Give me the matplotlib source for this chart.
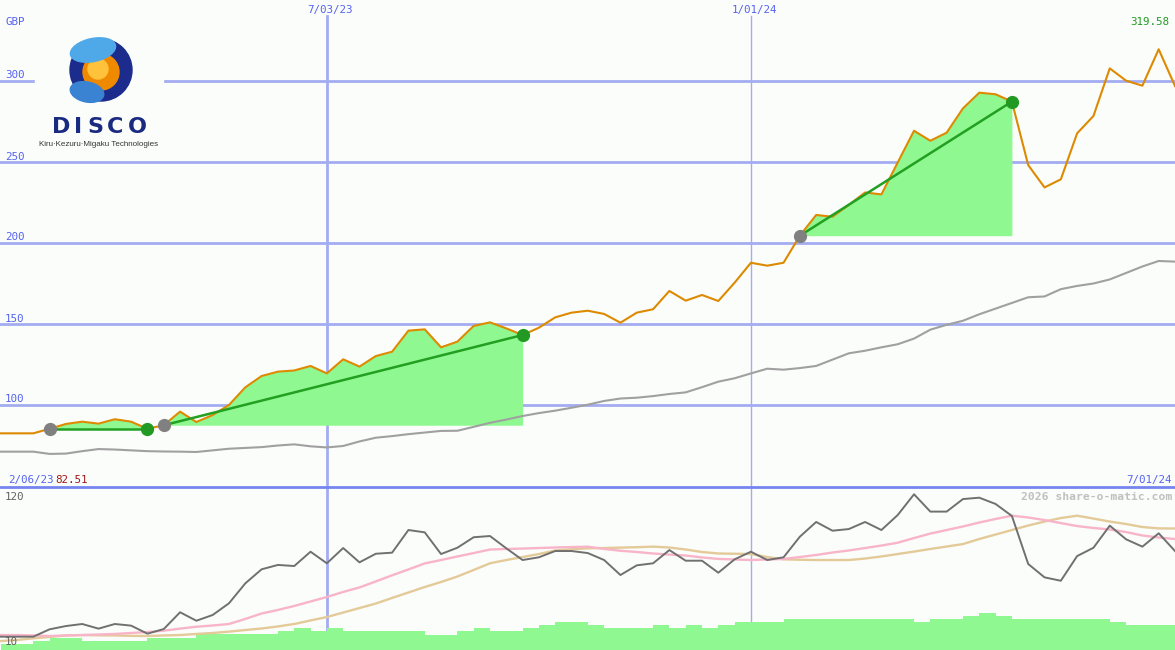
import matplotlib
matplotlib.use('Agg')
import matplotlib.pyplot as plt
from matplotlib.patches import Circle, Ellipse, Rectangle

# weekly closes (GBP), 73 weeks
price = [82.51, 82.51, 82.51, 85.3, 88.3, 89.7, 88.5, 91.2, 89.7, 85.3,
         87.5, 95.9, 89.5, 93.8, 100.0, 110.9, 117.9, 120.6, 121.3, 124.1,
         119.5, 128.2, 123.7, 130.2, 132.9, 145.9, 146.7, 135.6, 139.1, 148.8,
         151.0, 147.3, 143.2, 147.7, 154.1, 157.0, 158.2, 156.2, 150.8, 157.0,
         159.1, 170.4, 164.4, 167.9, 164.2, 175.5, 187.8, 186.0, 187.8, 204.5,
         217.3, 216.2, 223.5, 231.2, 230.0, 249.7, 269.3, 263.1, 268.1, 283.1,
         292.8, 291.8, 287.3, 248.1, 234.3, 239.3, 267.7, 278.4, 307.8, 300.2,
         297.1, 319.58, 296.9]

# moving average (grey)
ma = [71.2, 71.2, 71.2, 69.8, 70.0, 71.5, 72.8, 72.5, 72.0, 71.5,
      71.3, 71.2, 71.0, 72.0, 73.0, 73.5, 74.0, 75.0, 75.7, 74.5,
      73.8, 74.7, 77.5, 79.8, 80.8, 82.0, 83.0, 84.0, 84.1, 86.5,
      89.0, 91.0, 93.2, 95.0, 96.5, 98.3, 100.2, 102.5, 104.0, 104.5,
      105.5, 106.8, 107.8, 111.0, 114.4, 116.5, 119.5, 122.4, 121.8, 122.8,
      124.1, 128.0, 131.9, 133.5, 135.6, 137.5, 141.0, 146.5, 149.5, 152.0,
      156.0, 159.5, 163.0, 166.5, 167.0, 171.5, 173.5, 175.0, 177.5, 181.5,
      185.5, 188.9, 188.5]

# rising-trend signals: start week / end week
sig_start = [3, 10, 49]
sig_end = [9, 32, 62]

# lower panel
osc = [13.9, 13.9, 13.9, 19.3, 21.7, 23.2, 19.8, 23.2, 22.0, 16.1,
       19.5, 31.8, 25.6, 29.8, 38.4, 53.0, 63.3, 66.5, 65.7, 76.2,
       67.7, 78.9, 68.4, 74.7, 75.5, 92.1, 90.4, 74.5, 79.1, 86.8,
       87.7, 78.7, 70.1, 72.1, 76.7, 76.7, 75.2, 70.1, 59.1, 66.2,
       67.7, 77.4, 69.6, 69.6, 60.8, 70.6, 76.2, 70.1, 72.1, 87.2,
       98.0, 91.6, 92.8, 98.0, 92.1, 103.1, 118.3, 105.6, 105.6, 114.8,
       115.8, 111.2, 102.4, 67.2, 57.4, 54.9, 73.0, 79.1, 95.3, 85.3,
       79.9, 89.7, 76.7]
pink = [15.1, 15.1, 14.8, 14.4, 14.8, 15.1, 15.5, 15.9, 16.6, 17.3,
        18.3, 19.8, 21.2, 22.1, 23.2, 26.9, 30.9, 33.5, 36.4, 39.7,
        43.0, 46.7, 50.0, 54.4, 58.9, 63.2, 67.6, 70.1, 72.7, 75.2,
        77.8, 78.2, 78.5, 78.9, 79.3, 79.6, 79.9, 78.2, 76.9, 76.0,
        74.9, 74.1, 73.4, 72.0, 70.9, 70.5, 70.1, 70.5, 70.9, 72.3,
        73.8, 75.6, 77.1, 78.9, 80.7, 82.8, 86.2, 89.5, 92.1, 94.7,
        97.6, 100.2, 102.6, 101.3, 99.4, 97.2, 95.0, 93.6, 92.5, 90.6,
        88.1, 86.6, 85.5]
tan = [10.7, 11.5, 12.7, 13.7, 14.8, 15.1, 14.9, 14.8, 14.5, 14.4,
       14.8, 15.1, 15.9, 16.6, 17.6, 18.8, 19.9, 21.4, 23.2, 25.8,
       28.3, 31.6, 34.9, 38.2, 42.3, 46.3, 50.3, 54.0, 58.0, 62.8,
       67.7, 70.1, 72.3, 74.5, 77.1, 78.0, 78.7, 78.9, 79.2, 79.5,
       79.9, 79.3, 77.8, 76.0, 74.9, 74.7, 74.5, 72.3, 70.6, 70.3,
       70.1, 70.1, 70.1, 71.2, 72.7, 74.5, 76.3, 78.2, 80.0, 81.8,
       85.5, 88.8, 92.1, 95.4, 98.3, 100.9, 102.6, 100.5, 98.3, 96.5,
       94.3, 93.3, 93.2]
vol = [1.8, 1.8, 2.9, 4.0, 4.0, 2.9, 2.9, 2.9, 2.9, 4.0,
       4.0, 4.0, 5.1, 5.1, 5.1, 5.1, 5.1, 6.1, 7.2, 6.1,
       7.2, 6.1, 6.1, 6.1, 6.1, 6.1, 4.8, 4.8, 6.1, 7.2,
       6.1, 6.1, 7.2, 8.1, 9.0, 9.0, 8.1, 7.2, 7.2, 7.2,
       8.1, 7.2, 8.1, 7.2, 8.1, 9.0, 9.0, 9.0, 10.0, 10.0,
       10.0, 10.0, 10.0, 10.0, 10.0, 10.0, 9.0, 10.0, 10.0, 11.0,
       11.9, 11.0, 10.0, 10.0, 10.0, 10.0, 10.0, 10.0, 9.0, 8.1,
       8.1, 8.1]

vlines = [20, 46]
vline_labels = ['7/03/23', '1/01/24']
hgrid = [100, 150, 200, 250, 300]

BG = '#FBFDFB'
GRID = '#A3ACF0'
BLUE_TXT = '#5563F0'
MONO = 'DejaVu Sans Mono'

W, H = 1175, 650
fig = plt.figure(figsize=(W / 100, H / 100), dpi=100, facecolor=BG)
weeks = list(range(len(price)))
xl = (-0.04, len(price) - 1)

# ---- main price panel
ax = fig.add_axes([0, 163 / H, 1, 487 / H])
ax.set_facecolor('none')
ax.set_xlim(*xl)
ax.set_ylim(49.38, 350)
ax.axis('off')
for g in hgrid:
    ax.axhline(g, color=GRID, lw=2, zorder=1)
ax.axvline(vlines[0], ymax=1 - 16 / 487, color=GRID, lw=2, zorder=1)
ax.axvline(vlines[1], ymax=1 - 16 / 487, color=GRID, lw=1, zorder=1)

for s, e in zip(sig_start, sig_end):
    xs = weeks[s:e + 1]
    ax.fill_between(xs, price[s:e + 1], price[s], color='#90F890', lw=0, zorder=2)
ax.plot(weeks, ma, color='#A0A0A0', lw=1.5, zorder=3)
ax.plot(weeks, price, color='#DD8A00', lw=1.5, zorder=4)
for s, e in zip(sig_start, sig_end):
    ax.plot([s, e], [price[s], price[e]], color='#22A022', lw=1.8, zorder=5)
    ax.plot(s, price[s], 'o', color='#808080', ms=8.5, zorder=6)
    ax.plot(e, price[e], 'o', color='#229922', ms=8.5, zorder=6)

# ---- lower panel: volume + indicator lines
vax = fig.add_axes([0, 0, 1, 163 / H])
vax.set_facecolor('none')
vax.set_xlim(*xl)
vax.set_ylim(0, 163 / 3.1)
vax.axis('off')
vax.axvline(vlines[0], color=GRID, lw=2, zorder=0)
vax.axvline(vlines[1], color=GRID, lw=1, zorder=0)
vax.bar(weeks[:-1], vol, width=1, align='edge', color='#90F890', lw=0, zorder=2)

lax = fig.add_axes([0, 0, 1, 163 / H])
lax.set_facecolor('none')
lax.set_xlim(*xl)
lax.set_ylim(4.135, 123.64)
lax.axis('off')
lax.plot(weeks, tan, color='#E3CA98', lw=1.7)
lax.plot(weeks, pink, color='#F8B4C8', lw=1.7)
lax.plot(weeks, osc, color='#707070', lw=1.4)

# ---- overlay in pixel units: labels, separator, logo
ov = fig.add_axes([0, 0, 1, 1])
ov.set_facecolor('none')
ov.set_xlim(0, W)
ov.set_ylim(H, 0)
ov.axis('off')

ov.plot([0, W], [487, 487], color='#7585F0', lw=2)

ov.text(5, 25, 'GBP', color=BLUE_TXT, family=MONO, fontsize=7.8, va='baseline')
for g, yp in zip(hgrid, [405, 324, 243, 162, 81]):
    ov.text(5, yp - 2.5, str(g), color=BLUE_TXT, family=MONO, fontsize=7.8, va='baseline')
for lab, xp in zip(vline_labels, [330, 754]):
    ov.text(xp, 13, lab, color=BLUE_TXT, family=MONO, fontsize=7.8, ha='center', va='baseline')
ov.text(8, 483, '2/06/23', color=BLUE_TXT, family=MONO, fontsize=7.8, va='baseline')
ov.text(55, 483, '%.2f' % price[0], color='#A01818', family=MONO, fontsize=7.8, va='baseline')
ov.text(1172, 483, '7/01/24', color=BLUE_TXT, family=MONO, fontsize=7.8, ha='right', va='baseline')
ov.text(1169, 25, '%.2f' % max(price), color='#229922', family=MONO, fontsize=7.8, ha='right', va='baseline')
ov.text(1172, 500, '2026 share-o-matic.com', color='#C0C0C0', family=MONO,
        fontsize=8.2, fontweight='bold', ha='right', va='baseline')
ov.text(5, 500, '120', color='#606060', family=MONO, fontsize=7.8, va='baseline')
ov.text(5, 645, '10', color='#606060', family=MONO, fontsize=7.8, va='baseline')

# logo
ov.add_patch(Rectangle((35, 30), 128, 120, color=BG, zorder=1))
ov.add_patch(Circle((101, 70), 31, color='#1b2c8c', zorder=2))
ov.add_patch(Circle((101, 72), 18, color='#ef8a00', zorder=3))
ov.add_patch(Circle((98, 69), 10, color='#ffc23a', zorder=3))
ov.add_patch(Ellipse((93, 50), 46, 23, angle=-12, color='#4fa9e8', zorder=4))
ov.add_patch(Ellipse((87, 92), 34, 20, angle=12, color='#3a82d2', zorder=4))
for ch, xp in zip('DISCO', [61, 78.5, 95, 115.5, 137]):
    ov.text(xp, 133, ch, color='#1a2a80', family='DejaVu Sans', fontweight='bold',
            fontsize=16, ha='center', va='baseline', zorder=5)
ov.text(99, 146, 'Kiru\u00b7Kezuru\u00b7Migaku Technologies', color='#333333',
        family='Liberation Sans', fontsize=5.8, ha='center', va='baseline', zorder=5)

fig.savefig('out.png', dpi=100, facecolor=BG)
